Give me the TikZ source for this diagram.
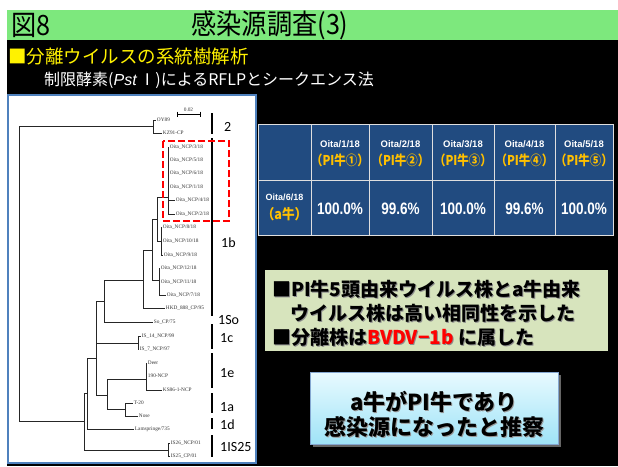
\documentclass[tikz,border=0pt]{standalone}
\usepackage{fontspec}
\usepackage{graphicx}
\setmainfont{Liberation Sans}
\newfontfamily\jp{Noto Sans CJK JP}
\newfontfamily\lsans{Liberation Sans}
\newfontfamily\lserif{Liberation Serif}
\newfontfamily\carl{Carlito}
\definecolor{titlegreen}{HTML}{7DE87D}
\definecolor{tblue}{HTML}{214B80}
\definecolor{orng}{HTML}{FFC000}
\definecolor{olivebox}{HTML}{D7E4BD}
\definecolor{panelblue}{HTML}{4F81BD}
\definecolor{cyantop}{HTML}{E8FAFF}
\definecolor{cyanbot}{HTML}{9FE3F7}
\newcommand\tleaf[4]{\draw[br] (#1,#3) -- (#2,#3) node[leaflbl]{#4};}
\newcommand\shtext[4]{\node[txt,text=black!45] at (#1+1,#2+1) {#4};\node[txt] (#3) at (#1,#2) {#4};}
\begin{document}
\begin{tikzpicture}[x=1pt,y=-1pt,
  br/.style={line width=0.7pt, draw=black!85},
  leaflbl/.style={anchor=west, inner sep=0.6pt, font=\lserif\fontsize{5.3}{5.3}\selectfont, text=black!80},
  grp/.style={anchor=west, inner sep=0pt, font=\carl\fontsize{14}{14}\selectfont},
  gbar/.style={line width=1.4pt},
  hdr/.style={inner sep=0pt, text=white, font=\lsans\bfseries\fontsize{9.5}{10}\selectfont},
  pil/.style={inner sep=0pt, text=orng, font=\jp\bfseries\fontsize{13.5}{13.5}\selectfont},
  val/.style={inner sep=0pt, text=white, font=\lsans\bfseries\fontsize{16.5}{16.5}\selectfont},
  txt/.style={anchor=west, inner sep=0pt, font=\jp\bfseries\fontsize{19}{19}\selectfont},
  big/.style={inner sep=0pt, font=\jp\bfseries\fontsize{22}{22}\selectfont},
]
\useasboundingbox (0,0) rectangle (618,466);
% backgrounds
\fill[white] (0,0) rectangle (618,466);
\fill[black] (7,40) rectangle (618,466);
\fill[titlegreen] (7,10) rectangle (618,40);
% title
\node[anchor=west, inner sep=0pt, font=\jp\fontsize{28}{28}\selectfont] (fig) at (11,25) {\scalebox{0.9}[1]{図8}};
\node[inner sep=0pt, font=\jp\fontsize{28}{28}\selectfont] (title) at (270,25) {\scalebox{0.9}[1]{感染源調査(3)}};
\node[anchor=west, inner sep=0pt, text=yellow, font=\jp\fontsize{18.5}{19}\selectfont] (sub) at (8,57) {■分離ウイルスの系統樹解析};
\node[anchor=west, inner sep=0pt, text=white, font=\jp\fontsize{16}{16}\selectfont] (sub2) at (44,80) {制限酵素({\lsans\itshape Pst}\,Ⅰ)によるRFLPとシークエンス法};
% tree panel
\draw[fill=white, draw=panelblue, line width=1.5pt] (8,95) rectangle (256,463);
% scale bar
\draw[line width=0.6pt] (177,114) -- (200,114) (177,111.5) -- (177,116.5) (200,111.5) -- (200,116.5);
\node[leaflbl, anchor=south] (scl) at (188.5,112) {0.02};
% tree internal branches
\draw[br] (153,126) -| (19,421) -- (84,421);
\draw[br] (153,120) -- (153,133);
\draw[br] (168,147) -- (168,214) (157,197) -- (168,197);
\draw[br] (161,227) -- (161,255) (157,241) -- (161,241);
\draw[br] (157,197) -- (157,241) (152,219) -- (157,219);
\draw[br] (159,268) -- (159,295) (152,280) -- (159,280);
\draw[br] (152,219) -- (152,280) (143,250) -- (152,250);
\draw[br] (143,250) -- (143,308) (104,280) -- (143,280);
\draw[br] (104,280) -- (104,322) (96,301) -- (104,301);
\draw[br] (138,336) -- (138,349) (96,343) -- (138,343);
\draw[br] (146,363) -- (146,390) (107,379) -- (146,379);
\draw[br] (125,403) -- (125,416) (107,409) -- (125,409);
\draw[br] (107,379) -- (107,409) (96,395) -- (107,395);
\draw[br] (96,301) -- (96,395) (87,358) -- (96,358);
\draw[br] (87,358) -- (87,429) (84,393) -- (87,393);
\draw[br] (84,393) -- (84,450) -- (168,450);
\draw[br] (168,443) -- (168,456);
% leaves
\tleaf{153}{156}{120}{OY89}
\tleaf{153}{162}{133}{KZ91-CP}
\tleaf{168}{169}{147}{Oita\_NCP/3/18}
\tleaf{168}{169}{160}{Oita\_NCP/5/18}
\tleaf{168}{169}{173}{Oita\_NCP/6/18}
\tleaf{168}{169}{187}{Oita\_NCP/1/18}
\tleaf{168}{175}{200}{Oita\_NCP/4/18}
\tleaf{168}{175}{214}{Oita\_NCP/2/18}
\tleaf{161}{162}{227}{Oita\_NCP/8/18}
\tleaf{161}{162}{241}{Oita\_NCP/10/18}
\tleaf{161}{163}{255}{Oita\_NCP/9/18}
\tleaf{159}{160}{268}{Oita\_NCP/12/18}
\tleaf{159}{160}{282}{Oita\_NCP/11/18}
\tleaf{159}{166}{295}{Oita\_NCP/7/18}
\tleaf{143}{165}{308}{HKD\_888\_CP/95}
\tleaf{104}{153}{322}{So\_CP/75}
\tleaf{138}{141}{336}{IS\_14\_NCP/99}
\tleaf{138}{139}{349}{IS\_7\_NCP/97}
\tleaf{146}{147}{363}{Deer}
\tleaf{146}{147}{376}{190-NCP}
\tleaf{146}{162}{390}{KS86-1-NCP}
\tleaf{125}{133}{403}{T-20}
\tleaf{125}{138}{416}{Nose}
\tleaf{87}{134}{429}{Lamspringe/735}
\tleaf{168}{170}{443}{IS26\_NCP/01}
\tleaf{168}{170}{456}{IS25\_CP/01}
% group bars and labels
\draw[gbar] (212,113) -- (212,134);
\draw[gbar] (212,138) -- (212,316);
\draw[gbar] (212,324) -- (212,349);
\draw[gbar] (212,353) -- (212,388);
\draw[gbar] (212,393) -- (212,413);
\draw[gbar] (212,418) -- (212,429);
\draw[gbar] (212,435) -- (212,457);
\node[grp] (g2) at (224,127) {2};
\node[grp] (g1b) at (221,243) {1b};
\node[grp] (g1so) at (218,320) {1So};
\node[grp] (g1c) at (220,338) {1c};
\node[grp] (g1e) at (220,373) {1e};
\node[grp] (g1a) at (220,407) {1a};
\node[grp] (g1d) at (220,425) {1d};
\node[grp] (g1is) at (220,447) {1IS25};
% red dashed box
\draw[red, line width=2.5pt, dash pattern=on 7pt off 3pt] (163,141) rectangle (229,221);
% table
\draw[fill=tblue, draw=white!75!gray, line width=0.8pt] (258,124) rectangle (613,235);
\draw[white!75!gray, line width=0.8pt] (258,180) -- (613,180)
  \foreach \x in {311,369,432,494,555} {(\x,124) -- (\x,235)};
\foreach \cx/\k/\c in {340/1/①,400.5/2/②,463/3/③,524.5/4/④,584/5/⑤}{
  \node[hdr] (h\k) at (\cx,144) {Oita/\k/18};
  \node[pil] (p\k) at (\cx,160) {\scalebox{0.85}[1]{（PI牛\c）}};
}
\node[hdr, font=\lsans\bfseries\fontsize{9}{9}\selectfont] (r0) at (284.5,197) {Oita/6/18};
\node[pil, font=\jp\bfseries\fontsize{14}{14}\selectfont] (ra) at (284.5,214) {\scalebox{0.9}[1]{（a牛）}};
\foreach \cx/\v/\k in {340/100.0\%/1,400.5/99.6\%/2,463/100.0\%/3,524.5/99.6\%/4,584/100.0\%/5}{
  \node[val] (v\k) at (\cx,209) {\scalebox{0.82}[1]{\v}};
}
% box 1
\fill[olivebox] (265,270) rectangle (608,351);
\shtext{272}{289}{t1}{■PI牛5頭由来ウイルス株とa牛由来}
\shtext{290}{313}{t2}{ウイルス株は高い相同性を示した}
\node[txt,text=black!45] at (273,338) {■分離株は\textcolor{black!45}{BVDV−1b} に属した};
\node[txt] (t3) at (272,337) {■分離株は\textcolor{red}{BVDV−1b} に属した};
% box 2
\fill[black!60] (313,375) rectangle (561,447);
\shade[top color=cyantop, bottom color=cyanbot, draw=panelblue!70, line width=0.6pt] (310,372) rectangle (558,444);
\node[big, text=black!40] at (435,403) {a牛がPI牛であり};
\node[big] (c1) at (434,402) {a牛がPI牛であり};
\node[big, text=black!40] at (435,428) {感染源になったと推察};
\node[big] (c2) at (434,427) {感染源になったと推察};
\end{tikzpicture}
\end{document}
